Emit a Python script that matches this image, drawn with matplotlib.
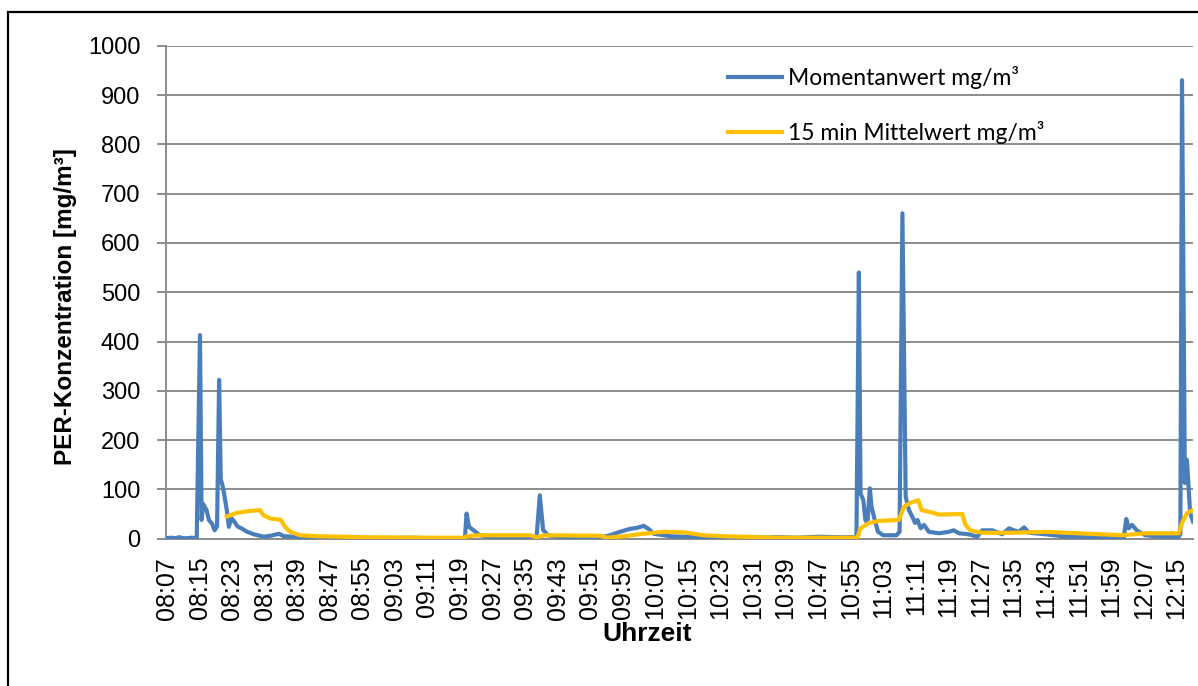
import matplotlib
matplotlib.use("Agg")
from matplotlib import pyplot
from matplotlib.patches import Rectangle

# minutes after 08:07
t_moment = [-0.2, 1, 2, 3, 4, 5, 6, 7.3, 8.1, 8.5, 8.9, 9.7, 10.3, 11.1, 11.7, 12.3,
            12.8, 13.2, 13.6, 14.0, 14.4, 14.8, 15.2, 15.8, 16.5, 17.3, 18.5, 19.7,
            21.3, 23.8, 25.5, 27.5, 28.7, 31.2, 35.2, 40, 45, 50, 55, 60, 65, 70,
            73.2, 73.6, 74.2, 75.2, 76.8, 80, 85, 90.8, 91.6, 92.4, 93.6, 97, 102,
            105.6, 108.1, 111.3, 113.8, 115.5, 117.1, 118.3, 119.6, 123.7, 130.2,
            138.4, 145, 150, 155, 160, 165, 169.4, 170.0, 170.4, 171.1, 171.6, 172.1,
            172.7, 173.1, 173.9, 174.7, 176.0, 179.2, 180.0, 180.7, 181.5, 182.3,
            183.1, 183.8, 184.4, 185.2, 186.0, 187.2, 189.7, 192.1, 193.3, 194.6,
            197.0, 199.1, 200.3, 202.8, 205.2, 206.9, 208.1, 209.3, 210.6, 211.8,
            215.9, 220.0, 228.2, 235.1, 235.7, 236.3, 237.1, 238.4, 240.4, 244.5,
            248.6, 249.0, 249.4, 250.1, 250.6, 251.4, 252.1]
v_moment = [1, 2, 1, 3, 1, 1, 2, 1, 413, 38, 70, 58, 38, 30, 17, 25,
            322, 120, 109, 92, 72, 52, 24, 42, 35, 25, 20, 14,
            9, 4, 6, 10, 5, 4, 2, 1, 2, 1, 1, 2, 1, 1,
            1, 51, 24, 18, 7, 3, 2, 3, 88, 18, 7, 3, 2,
            3, 5, 14, 20, 22, 26, 20, 10, 5, 3,
            2, 2, 3, 2, 4, 3, 3, 540, 92, 78, 38, 32,
            102, 65, 38, 14, 7, 7, 14, 660, 85, 58,
            45, 32, 38, 21, 28, 14, 11, 14, 17, 11,
            9, 4, 17, 17, 9, 21, 17, 14, 23, 12,
            9, 5, 3, 3, 40, 21, 28, 16, 7, 4,
            4, 10, 930, 113, 160, 52, 35]

t_mittel = [14.7, 17, 20, 22.9, 23.6, 25.4, 28.0, 29.0, 30.3, 32.7, 36.8, 48.3, 64.6,
            73.0, 73.6, 76.8, 89.1, 90.8, 92.8, 106.4, 108.1, 112.2, 117.1, 122.0,
            127, 131.9, 136.8, 150, 169.6, 170.4, 172.5, 174.9, 179.8, 181.1, 182.7,
            184.6, 185.4, 188.0, 189.7, 195.4, 196.2, 197.4, 200.3, 207.7, 215.9,
            224.0, 234.7, 240.4, 248.6, 249.4, 250.6, 252.1]
v_mittel = [45, 52, 56, 58, 48, 41, 38, 24, 14, 7, 5, 3, 2,
            2, 5, 7, 7, 3, 7, 6, 2, 5, 10, 14,
            13, 7, 5, 2, 2, 21, 32, 36, 38, 65, 73,
            78, 58, 53, 49, 50, 28, 17, 12, 12, 14,
            11, 7, 11, 11, 32, 52, 58]

tick_labels = ["08:07", "08:15", "08:23", "08:31", "08:39", "08:47", "08:55", "09:03",
               "09:11", "09:19", "09:27", "09:35", "09:43", "09:51", "09:59", "10:07",
               "10:15", "10:23", "10:31", "10:39", "10:47", "10:55", "11:03", "11:11",
               "11:19", "11:27", "11:35", "11:43", "11:51", "11:59", "12:07", "12:15"]
y_ticks = [0, 100, 200, 300, 400, 500, 600, 700, 800, 900, 1000]


def to_minutes(label):
    h, m = label.split(":")
    return int(h) * 60 + int(m) - (8 * 60 + 7)


W, H = 1198, 686
fig = pyplot.figure(figsize=(W / 100, H / 100), dpi=100)
ax = fig.add_axes([166 / W, 1 - 538.7 / H, (1193 - 166) / W, (538.7 - 45.7) / H])

grid_col = "#8c8c8c"
ax.plot(t_moment, v_moment, color="#4a7ebb", linewidth=3.0, solid_joinstyle="round",
        label="Momentanwert mg/m³", zorder=3)
ax.plot(t_mittel, v_mittel, color="#ffc000", linewidth=3.0, solid_joinstyle="round",
        label="15 min Mittelwert mg/m³", zorder=4)

ax.set_xlim(-0.25, 252.1)
ax.set_ylim(0, 1000)
ax.set_xticks([to_minutes(l) for l in tick_labels])
ax.set_xticklabels(tick_labels, rotation=90, fontfamily="Liberation Sans", fontsize=18)
ax.set_yticks(y_ticks)
ax.set_yticklabels([str(v) for v in y_ticks], fontfamily="Liberation Sans", fontsize=17)
ax.tick_params(axis="x", length=0, pad=13)
ax.tick_params(axis="y", length=6.5, width=1.4, color=grid_col, pad=12)

ax.grid(True, axis="y", color=grid_col, linewidth=1.4)
ax.set_axisbelow(True)
for side in ["top", "right"]:
    ax.spines[side].set_visible(False)
for side in ["left", "bottom"]:
    ax.spines[side].set_color(grid_col)
    ax.spines[side].set_linewidth(1.4)
ax.spines["bottom"].set_zorder(2)

fig.text(66 / W, 1 - 307 / H, "PER-Konzentration [mg/m³]", rotation=90,
         ha="center", va="center", fontfamily="Liberation Sans", fontweight="bold",
         fontsize=17.5)
fig.text(647 / W, 1 - 634 / H, "Uhrzeit", ha="center", va="center",
         fontfamily="Liberation Sans", fontweight="bold", fontsize=19)

leg = ax.legend(loc="upper left", bbox_to_anchor=(728 / W, 1 - 66 / H),
                bbox_transform=fig.transFigure, frameon=False, borderpad=0,
                borderaxespad=0, handlelength=2.35, handletextpad=0.25,
                labelspacing=1.4, prop={"family": "Lato", "size": 16.5})
for line in leg.get_lines():
    line.set_linewidth(3.0)

fig.patches.append(Rectangle((8 / W, -0.5), 2, 1.5 - 12 / H, transform=fig.transFigure,
                             fill=False, edgecolor="black", linewidth=1.6))

fig.savefig("out.png", dpi=100)
